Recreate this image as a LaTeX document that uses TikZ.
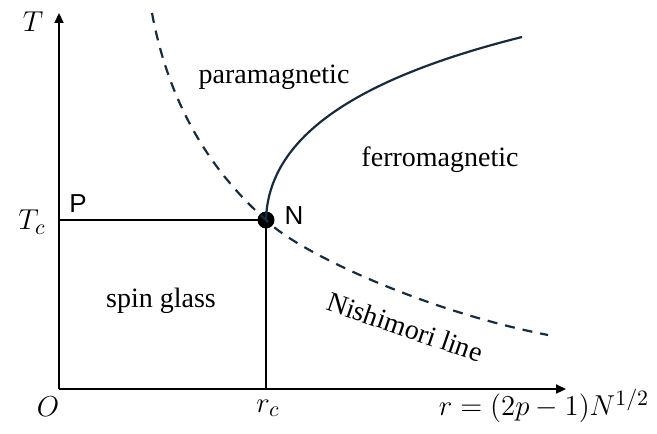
\documentclass[tikz,border=0pt]{standalone}
\usepackage{fontspec}
\setmainfont{Liberation Serif}
\setsansfont{Liberation Sans}
\usetikzlibrary{arrows.meta,positioning,calc}
\definecolor{curvenavy}{RGB}{24,44,64}

\begin{document}
\begin{tikzpicture}[x=0.5pt, y=-0.5pt,
    axis/.style={line width=1.1pt,-{Triangle[length=5pt,width=4.5pt]}},
    guide/.style={line width=1.1pt},
    phase/.style={font=\fontsize{14}{16}\selectfont},
    mlabel/.style={font=\fontsize{15.5}{18}\selectfont},
    pointlabel/.style={font=\sffamily\fontsize{13}{15}\selectfont}]
  \useasboundingbox (0,0) rectangle (657,433);
  %% axes
  \coordinate (o) at (59,389);
  \coordinate (ttip) at (59,13);
  \coordinate (rtip) at (566,389);
  \draw[axis] (o) -- (ttip);
  \draw[axis] (o) -- (rtip);
  %% critical point
  \node[circle,fill=black,inner sep=0pt,minimum size=8.5pt] (n) at (266,220) {};
  \coordinate (p) at (59,220);
  \coordinate (rc) at (266,389);
  \draw[guide] (p) -- (n.center) -- (rc);
  %% Nishimori line
  \coordinate (nt) at (152,13);
  \coordinate (nb) at (548,335);
  \draw[curvenavy,line width=1.1pt,dash pattern=on 5pt off 4pt]
    (nt) .. controls (170,110) and (215,175) .. (n.center)
         .. controls (295,250) and (420,310) .. (nb);
  %% phase boundary
  \coordinate (fe) at (522,37);
  \draw[curvenavy,line width=1.1pt] (n.center) .. controls (268,140) and (350,80) .. (fe);
  %% labels
  \node[mlabel] (tlab) at (33,22) {$T$};
  \node[mlabel] (tclab) at (32,222) {$T_c$};
  \node[mlabel] (olab) at (48,407) {$O$};
  \node[mlabel] (rclab) at (268,408) {$r_c$};
  \node[mlabel] (rlab) at (544,406) {$r=(2p-1)N^{1/2}$};
  \node[pointlabel] (plab) at (78,204) {P};
  \node[pointlabel] (nlab) at (294,216) {N};
  \node[phase] (para) at (274,77) {paramagnetic};
  \node[phase] (ferro) at (440,160) {ferromagnetic};
  \node[phase] (glass) at (161,301) {spin glass};
  \node[phase,rotate=-19] (nish) at (405,327) {Nishimori line};
\end{tikzpicture}
\end{document}
